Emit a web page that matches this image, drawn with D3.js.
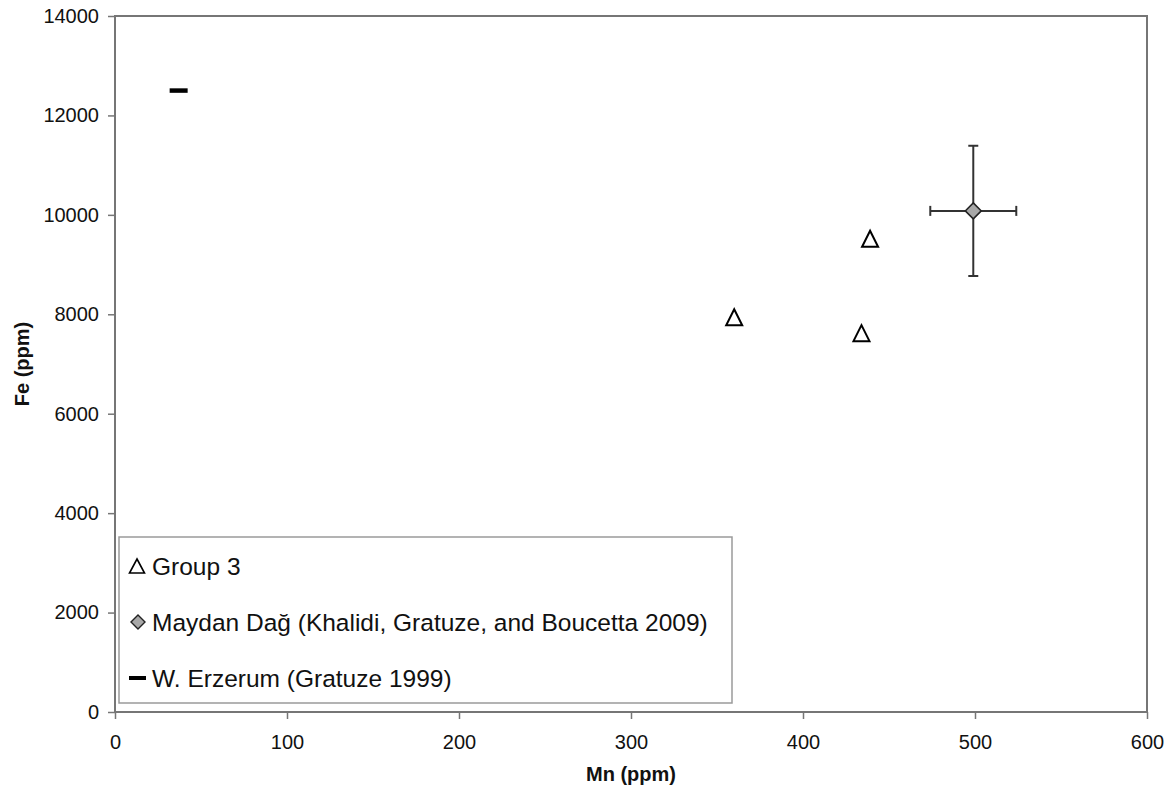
<!DOCTYPE html>
<html>
<head>
<meta charset="utf-8">
<script src="https://cdn.jsdelivr.net/npm/d3@7"></script>
<style>
  html, body { margin: 0; padding: 0; background: #fff; }
  svg { display: block; font-family: "Liberation Sans", Arial, Helvetica, sans-serif; }
</style>
</head>
<body>
<svg id="chart" width="1174" height="795"></svg>
<script>
// ---- Data ----
const xTicks = [0, 100, 200, 300, 400, 500, 600];
const yTicks = [0, 2000, 4000, 6000, 8000, 10000, 12000, 14000];

const group3Mn = [360, 439, 434];
const group3Fe = [7940, 9520, 7620];

const maydanMn = [499];
const maydanFe = [10080];
const maydanMnErr = [25];
const maydanFeErr = [1310];

const erzerumMn = [37];
const erzerumFe = [12500];

const legendLabels = [
  "Group 3",
  "Maydan Dağ (Khalidi, Gratuze, and Boucetta 2009)",
  "W. Erzerum (Gratuze 1999)"
];

// ---- Layout ----
const svg = d3.select("#chart");
const x = d3.scaleLinear().domain([0, 600]).range([115, 1147]);
const y = d3.scaleLinear().domain([0, 14000]).range([712, 16]);

// frame
svg.append("rect")
  .attr("x", x(0)).attr("y", y(14000))
  .attr("width", x(600) - x(0)).attr("height", y(0) - y(14000))
  .attr("fill", "#fff").attr("stroke", "#767676").attr("stroke-width", 2);

// axes
const xAxis = svg.append("g").attr("transform", `translate(0,${y(0)})`)
  .call(d3.axisBottom(x).tickValues(xTicks).tickSize(7).tickPadding(16).tickFormat(d3.format("d")));
const yAxis = svg.append("g").attr("transform", `translate(${x(0)},0)`)
  .call(d3.axisLeft(y).tickValues(yTicks).tickSize(7).tickPadding(9).tickFormat(d3.format("d")));
[xAxis, yAxis].forEach(g => {
  g.select(".domain").remove();
  g.selectAll(".tick line").attr("stroke", "#767676").attr("stroke-width", 1.5);
  g.selectAll(".tick text").attr("fill", "#111")
    .style("font-size", "20px").style("font-family", "'Liberation Sans', Arial, sans-serif");
});

// axis titles
svg.append("text")
  .attr("x", 631).attr("y", 781)
  .attr("text-anchor", "middle")
  .style("font-size", "20px").style("font-weight", "bold").attr("fill", "#111")
  .text("Mn (ppm)");
svg.append("text")
  .attr("transform", "translate(29,364) rotate(-90)")
  .attr("text-anchor", "middle")
  .style("font-size", "20px").style("font-weight", "bold").attr("fill", "#111")
  .text("Fe (ppm)");

// ---- Marks ----
function triPath(cx, cy, w, h) {
  return `M${cx},${cy - h / 2}L${cx + w / 2},${cy + h / 2}L${cx - w / 2},${cy + h / 2}Z`;
}
function diaPath(cx, cy, s) {
  return `M${cx},${cy - s / 2}L${cx + s / 2},${cy}L${cx},${cy + s / 2}L${cx - s / 2},${cy}Z`;
}

// W. Erzerum dash
svg.selectAll(".erz").data(erzerumMn).enter().append("line")
  .attr("x1", (d) => x(d) - 9).attr("x2", (d) => x(d) + 9)
  .attr("y1", (d, i) => y(erzerumFe[i])).attr("y2", (d, i) => y(erzerumFe[i]))
  .attr("stroke", "#000").attr("stroke-width", 4.5);

// Group 3 triangles
svg.selectAll(".g3").data(group3Mn).enter().append("path")
  .attr("d", (d, i) => triPath(x(d), y(group3Fe[i]), 16, 16))
  .attr("fill", "#fff").attr("stroke", "#000").attr("stroke-width", 2)
  .attr("stroke-linejoin", "miter");

// Maydan error bars
const eb = svg.append("g").attr("stroke", "#333").attr("stroke-width", 2);
maydanMn.forEach((mn, i) => {
  const cx = x(mn), cy = y(maydanFe[i]);
  const xl = x(mn - maydanMnErr[i]), xr = x(mn + maydanMnErr[i]);
  const yt = y(maydanFe[i] + maydanFeErr[i]), yb = y(maydanFe[i] - maydanFeErr[i]);
  eb.append("line").attr("x1", xl).attr("x2", xr).attr("y1", cy).attr("y2", cy);
  eb.append("line").attr("x1", cx).attr("x2", cx).attr("y1", yt).attr("y2", yb);
  eb.append("line").attr("x1", xl).attr("x2", xl).attr("y1", cy - 5).attr("y2", cy + 5);
  eb.append("line").attr("x1", xr).attr("x2", xr).attr("y1", cy - 5).attr("y2", cy + 5);
  eb.append("line").attr("x1", cx - 5).attr("x2", cx + 5).attr("y1", yt).attr("y2", yt);
  eb.append("line").attr("x1", cx - 5).attr("x2", cx + 5).attr("y1", yb).attr("y2", yb);
});
svg.selectAll(".md").data(maydanMn).enter().append("path")
  .attr("d", (d, i) => diaPath(x(d), y(maydanFe[i]), 16))
  .attr("fill", "#a8a8a8").attr("stroke", "#222").attr("stroke-width", 1.5);

// ---- Legend ----
const lg = svg.append("g");
lg.append("rect").attr("x", 119).attr("y", 537).attr("width", 613).attr("height", 166)
  .attr("fill", "#fff").attr("stroke", "#9a9a9a").attr("stroke-width", 1.5);
const rowsY = [566, 622, 678];
legendLabels.forEach((lab, i) => {
  const cy = rowsY[i];
  if (i === 0) {
    lg.append("path").attr("d", triPath(137, cy, 15, 14))
      .attr("fill", "#fff").attr("stroke", "#000").attr("stroke-width", 1.6);
  } else if (i === 1) {
    lg.append("path").attr("d", diaPath(138, cy, 14))
      .attr("fill", "#a8a8a8").attr("stroke", "#222").attr("stroke-width", 1.4);
  } else {
    lg.append("line").attr("x1", 129).attr("x2", 146).attr("y1", cy).attr("y2", cy)
      .attr("stroke", "#000").attr("stroke-width", 4);
  }
  lg.append("text").attr("x", 152).attr("y", cy + 9)
    .style("font-size", "24.5px").attr("fill", "#111").text(lab);
});
</script>
</body>
</html>
